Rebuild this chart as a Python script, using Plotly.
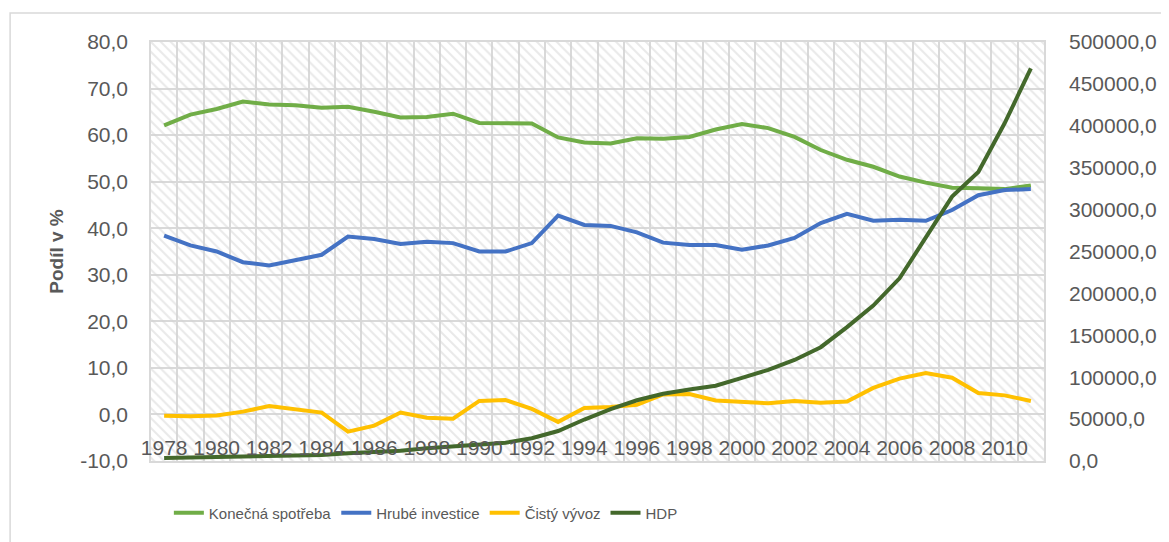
import plotly.graph_objects as go

# ---- data ----
years = list(range(1978, 2012))
spotreba = [62.1, 64.4, 65.6, 67.2, 66.6, 66.4, 65.9, 66.1, 65.0, 63.8,
            63.9, 64.6, 62.6, 62.5, 62.5, 59.5, 58.4, 58.2, 59.3, 59.2,
            59.6, 61.2, 62.4, 61.5, 59.6, 56.8, 54.7, 53.2, 51.1, 49.8,
            48.7, 48.6, 48.4, 49.2]
investice = [38.4, 36.3, 35.0, 32.7, 32.0, 33.1, 34.3, 38.2, 37.7, 36.6,
             37.1, 36.8, 35.0, 35.0, 36.8, 42.7, 40.7, 40.5, 39.1, 36.9,
             36.4, 36.4, 35.4, 36.3, 37.9, 41.1, 43.1, 41.6, 41.8, 41.6,
             43.9, 47.1, 48.2, 48.4]
vyvoz = [-0.3, -0.4, -0.2, 0.6, 1.8, 1.1, 0.4, -3.7, -2.4, 0.4,
         -0.7, -0.9, 2.9, 3.1, 1.2, -1.6, 1.4, 1.6, 2.1, 4.3,
         4.4, 3.0, 2.7, 2.4, 2.9, 2.5, 2.8, 5.7, 7.7, 8.9,
         7.9, 4.6, 4.1, 2.9]
hdp = [3700, 4100, 4600, 4900, 5400, 6000, 7300, 9100, 10400, 12200,
       15100, 17100, 18800, 21900, 27100, 35800, 49500, 62000, 72500, 80300,
       85200, 89800, 99200, 108800, 120600, 135800, 159800, 185500, 218000, 267000,
       315500, 345000, 403000, 468500]

left_ticks = [-10, 0, 10, 20, 30, 40, 50, 60, 70, 80]
right_ticks = [0, 50000, 100000, 150000, 200000, 250000, 300000, 350000, 400000, 450000, 500000]
x_ticks = list(range(1978, 2012, 2))

def fmt(v):
    return f"{v:.1f}".replace(".", ",")

grid = "#d9d9d9"
txt = "#595959"
font = "Liberation Sans, Arial, sans-serif"

fig = go.Figure()

# hatched plot-area background (decorative)
fig.add_trace(go.Bar(
    x=[(years[0] + years[-1]) / 2], y=[left_ticks[-1] - left_ticks[0]], base=[left_ticks[0]],
    width=[len(years)],
    marker=dict(color="rgba(255,255,255,0)", line=dict(width=0),
                pattern=dict(shape="\\", fgcolor="#d4d4d4", bgcolor="rgba(255,255,255,0)",
                             size=7, solidity=0.3)),
    showlegend=False, hoverinfo="skip"))

series = [("Konečná spotřeba", spotreba, "#70AD47"),
          ("Hrubé investice", investice, "#4472C4"),
          ("Čistý vývoz", vyvoz, "#FFC000")]
for name, vals, col in series:
    fig.add_trace(go.Scatter(x=years, y=vals, name=name, mode="lines",
                             line=dict(color=col, width=4)))
fig.add_trace(go.Scatter(x=years, y=hdp, name="HDP", mode="lines", yaxis="y2",
                         line=dict(color="#43682B", width=4)))

# page body has an 8px margin, so the figure is offset by 8px
fig.update_layout(
    width=1161, height=534,
    margin=dict(l=143, r=118, t=34, b=81),
    paper_bgcolor="white", plot_bgcolor="white",
    font=dict(family=font, color=txt),
    showlegend=True,
    legend=dict(orientation="h", x=0.02, xanchor="left", y=-0.124, yanchor="middle",
                font=dict(family=font, size=15, color=txt),
                itemwidth=30, traceorder="normal"),
    xaxis=dict(range=[years[0] - 0.5, years[-1] + 0.5], tickmode="array",
               tickvals=x_ticks, ticktext=[str(y) for y in x_ticks],
               ticklabelposition="outside", ticklabelstandoff=-33,
               tickfont=dict(size=21, color=txt),
               showgrid=False, zeroline=False, ticks="",
               showline=True, linecolor=grid, linewidth=1.5, mirror=True,
               minor=dict(tickmode="linear", tick0=years[0] - 0.5, dtick=1,
                          showgrid=True, gridcolor=grid, gridwidth=1.5)),
    yaxis=dict(range=[left_ticks[0], left_ticks[-1]], tickmode="array",
               tickvals=left_ticks, ticktext=[fmt(v) for v in left_ticks],
               tickfont=dict(size=21, color=txt), ticklabelstandoff=17,
               showgrid=True, gridcolor=grid, gridwidth=1.5, zeroline=False,
               showline=True, linecolor=grid, linewidth=1.5, mirror=True,
               title=dict(text="Podíl v %", font=dict(size=19, color=txt, weight="bold"),
                          standoff=12)),
    yaxis2=dict(range=[right_ticks[0], right_ticks[-1]], overlaying="y", side="right",
                tickmode="array", tickvals=right_ticks, ticktext=[fmt(v) for v in right_ticks],
                tickfont=dict(size=21, color=txt), ticklabelstandoff=24,
                showgrid=False, zeroline=False),
    shapes=[dict(type="rect", xref="paper", yref="paper",
                 x0=(9 - 151) / 900, x1=1.3, y0=-0.3, y1=1 + (42 - 13) / 419,
                 line=dict(color=grid, width=1.5), fillcolor="rgba(0,0,0,0)", layer="below")],
)

fig.write_html("out.html")
